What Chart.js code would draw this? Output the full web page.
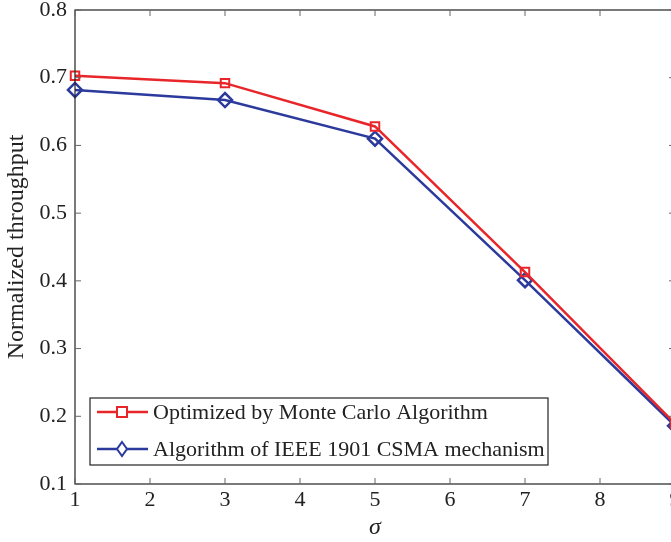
<!DOCTYPE html>
<html>
<head>
<meta charset="utf-8">
<script src="https://cdn.jsdelivr.net/npm/chart.js@4"></script>
<style>
  html, body { margin: 0; padding: 0; background: #fff; overflow: hidden; }
  #wrap { width: 671px; height: 542px; overflow: hidden; }
  #box { width: 700px; height: 542px; }
</style>
</head>
<body>
<div id="wrap"><div id="box"><canvas id="mychart"></canvas></div></div>
<script>
// values
const sigma = [1, 3, 5, 7, 9]
const monteCarlo = [0.703, 0.692, 0.628, 0.413, 0.189]
const ieee1901 = [0.682, 0.667, 0.610, 0.401, 0.186]
const xTicks = [1, 2, 3, 4, 5, 6, 7, 8, 9]
const yTicks = [0.1, 0.2, 0.3, 0.4, 0.5, 0.6, 0.7, 0.8]
const seriesNames = ['Optimized by Monte Carlo Algorithm', 'Algorithm of IEEE 1901 CSMA mechanism']

const red = '#e8262a'
const blue = '#2b3a9c'
const serif = '"Liberation Serif", "Times New Roman", serif'

function toPoints(ys) {
  return sigma.map(function (x, i) { return { x: x, y: ys[i] } })
}

// matlab-like box with inward ticks, plus the legend box
const boxPlugin = {
  id: 'boxPlugin',
  afterDatasetsDraw(chart) {
    const ctx = chart.ctx
    const a = chart.chartArea
    const xs = chart.scales.x
    const ys = chart.scales.y
    ctx.save()
    ctx.strokeStyle = '#222'
    ctx.lineWidth = 1.2
    ctx.strokeRect(a.left, a.top, a.right - a.left, a.bottom - a.top)
    ctx.strokeStyle = '#666'
    ctx.lineWidth = 1
    xTicks.forEach(function (v) {
      let px = xs.getPixelForValue(v)
      ctx.beginPath()
      ctx.moveTo(px, a.bottom); ctx.lineTo(px, a.bottom - 6)
      ctx.moveTo(px, a.top); ctx.lineTo(px, a.top + 6)
      ctx.stroke()
    })
    yTicks.forEach(function (v) {
      let py = ys.getPixelForValue(v)
      ctx.beginPath()
      ctx.moveTo(a.left, py); ctx.lineTo(a.left + 6, py)
      ctx.moveTo(a.right, py); ctx.lineTo(a.right - 6, py)
      ctx.stroke()
    })

    // legend
    const lx = 90, ly = 398, lw = 458, lh = 67
    ctx.fillStyle = '#fff'
    ctx.fillRect(lx, ly, lw, lh)
    ctx.strokeStyle = '#222'
    ctx.lineWidth = 1.2
    ctx.strokeRect(lx, ly, lw, lh)
    const rows = [
      { y: ly + 14, color: red, marker: 'square', name: seriesNames[0] },
      { y: ly + 51, color: blue, marker: 'diamond', name: seriesNames[1] }
    ]
    rows.forEach(function (r) {
      ctx.strokeStyle = r.color
      ctx.lineWidth = 2.5
      ctx.beginPath()
      ctx.moveTo(lx + 7, r.y); ctx.lineTo(lx + 58, r.y)
      ctx.stroke()
      ctx.fillStyle = '#fff'
      ctx.lineWidth = 2
      const cx = lx + 32
      ctx.beginPath()
      if (r.marker == 'square') {
        ctx.rect(cx - 5, r.y - 5, 10, 10)
      } else {
        ctx.moveTo(cx, r.y - 7); ctx.lineTo(cx + 5, r.y); ctx.lineTo(cx, r.y + 7); ctx.lineTo(cx - 5, r.y); ctx.closePath()
      }
      ctx.fill()
      ctx.stroke()
      ctx.fillStyle = '#222'
      ctx.font = '22px ' + serif
      ctx.textBaseline = 'middle'
      ctx.fillText(r.name, lx + 63, r.y + 1)
    })
    ctx.restore()
  }
}

const canvas = document.getElementById('mychart')
new Chart(canvas, {
  type: 'line',
  data: {
    datasets: [{
      label: seriesNames[0],
      data: toPoints(monteCarlo),
      borderColor: red,
      backgroundColor: '#fff',
      borderWidth: 2.5,
      pointStyle: 'rect',
      pointRadius: 6,
      pointBorderWidth: 2,
      pointBorderColor: red,
      pointBackgroundColor: 'rgba(255,255,255,0)',
      tension: 0,
      clip: false
    }, {
      label: seriesNames[1],
      data: toPoints(ieee1901),
      borderColor: blue,
      backgroundColor: '#fff',
      borderWidth: 2.5,
      pointStyle: 'rectRot',
      pointRadius: 7,
      pointBorderWidth: 2.5,
      pointBorderColor: blue,
      pointBackgroundColor: 'rgba(255,255,255,0)',
      tension: 0,
      clip: false
    }]
  },
  options: {
    responsive: true,
    maintainAspectRatio: false,
    animation: false,
    layout: { padding: { top: 10, right: 25, left: 0, bottom: 0 } },
    plugins: {
      legend: { display: false },
      tooltip: { enabled: false }
    },
    scales: {
      x: {
        type: 'linear',
        min: 1,
        max: 9,
        afterBuildTicks: function (scale) { scale.ticks = xTicks.map(function (v) { return { value: v } }) },
        afterFit: function (scale) { scale.height = 58; scale.paddingLeft = 0; scale.paddingRight = 0 },
        grid: { display: false, drawTicks: false },
        border: { display: false },
        ticks: { color: '#222', font: { family: serif, size: 22 }, padding: 3, maxRotation: 0 },
        title: { display: true, text: 'σ', color: '#222', font: { family: serif, size: 24, style: 'italic' }, padding: { top: 0, bottom: 0 } }
      },
      y: {
        min: 0.1,
        max: 0.8,
        afterBuildTicks: function (scale) { scale.ticks = yTicks.map(function (v) { return { value: v } }) },
        afterFit: function (scale) { scale.width = 75; scale.paddingTop = 0; scale.paddingBottom = 0 },
        grid: { display: false, drawTicks: false },
        border: { display: false },
        ticks: { color: '#222', font: { family: serif, size: 22 }, padding: 8, callback: function (v) { return v.toFixed(1) } },
        title: { display: true, text: 'Normalized throughput', color: '#222', font: { family: serif, size: 24 }, padding: { top: 2, bottom: 0 } }
      }
    }
  },
  plugins: [boxPlugin]
})
</script>
</body>
</html>
